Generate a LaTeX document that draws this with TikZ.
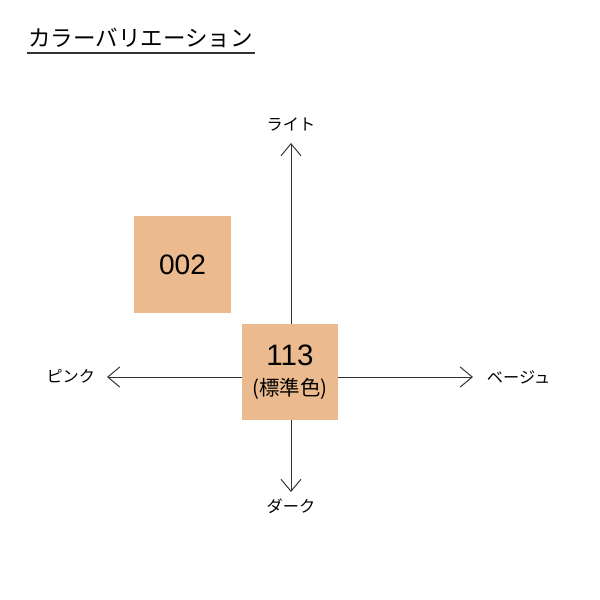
\documentclass[tikz,border=0pt]{standalone}
\usepackage{fontspec}
\newfontfamily\jp{Noto Sans CJK JP}
\newfontfamily\num{Liberation Sans}
\usetikzlibrary{arrows.meta,positioning}
\definecolor{skintan}{RGB}{235,187,143}
\definecolor{axisgray}{RGB}{50,50,50}
\tikzset{
  axis/.style={axisgray,line width=0.7pt,-{Straight Barb[length=3mm,width=5mm,line width=0.7pt]}},
  swatch/.style={fill=skintan,draw=none,minimum width=2.4cm,minimum height=2.4cm,inner sep=0pt,align=center,font=\jp},
  dirlabel/.style={font=\jp\fontsize{11.5}{14}\selectfont,text=black},
}
\begin{document}
\begin{tikzpicture}[x=0.025cm,y=-0.025cm]
  \path[use as bounding box,fill=white] (0,0) rectangle (600,600);

  % title
  \node[font=\jp\fontsize{16}{20}\selectfont,anchor=west,inner sep=0pt] (title) at (28,38)
    {カラーバリエーション};
  \draw[axisgray,line width=0.9pt] (27,53) -- (255,53);

  % axes
  \coordinate (origin) at (291,377);
  \coordinate (tipN) at (291,143);
  \coordinate (tipS) at (291,492);
  \coordinate (tipW) at (107,377);
  \coordinate (tipE) at (473,377);
  \draw[axis] (origin) -- (tipN);
  \draw[axis] (origin) -- (tipS);
  \draw[axis] (origin) -- (tipW);
  \draw[axis] (origin) -- (tipE);

  \node[dirlabel] (light) at (291,124) {ライト};
  \node[dirlabel] (dark) at (291,506) {ダーク};
  \node[dirlabel,anchor=east] (pink) at (100,376) {ピンク};
  \node[dirlabel,anchor=west] (beige) at (482,377) {ベージュ};

  % swatches
  \node[swatch,font=\num\fontsize{20}{22}\selectfont] (s002) at (182.5,264.5) {002};
  \node[swatch,font=\jp\fontsize{14.5}{21}\selectfont] (s113) at (290,372)
    {{\num\fontsize{21}{21}\selectfont 113}\\{(標準色)}};
\end{tikzpicture}
\end{document}
